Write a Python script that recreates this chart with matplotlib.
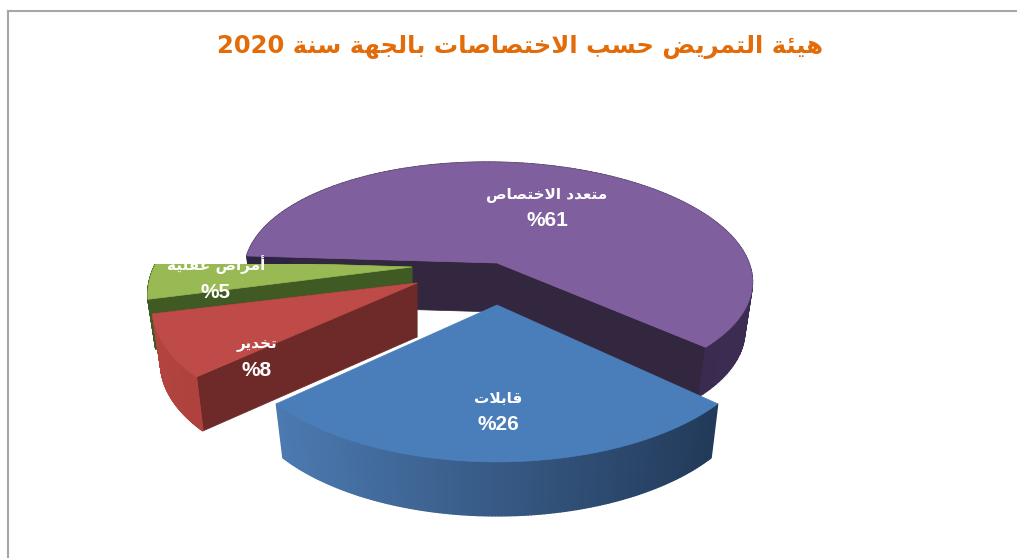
import numpy as np
import matplotlib
matplotlib.use('Agg')
import matplotlib.pyplot as plt
from matplotlib.patches import Rectangle

# القيم
title_ar = 'هيئة التمريض حسب الاختصاصات بالجهة سنة'
title_year = '2020'
labels = ['متعدد الاختصاص', 'قابلات', 'تخدير', 'أمراض عقلية']
values = [61, 26, 8, 5]

top_colors = ['#7f5f9e', '#4a7ebb', '#be4b48', '#98b954']
wall_colors = ['#33263f', None, '#6e2a28', '#3f5a22']
rim_left = ['#2e2340', '#4f7fb8', '#b2433f', '#3f5a22']
rim_right = ['#3c2c52', '#1f3552', '#8c302d', '#3f5a22']

# apex x, apex y, a, b, k, depth, skew for every slice (pixels)
geom = [(497, 263, 252, 113, 0.12, 49, 0.1),
        (497, 305, 258, 123, 0.216, 54, 0),
        (417, 283, 258, 117, 0.216, 54, 0),
        (412, 267, 258, 123, 0.216, 50, 0)]
label_pos = [(547, 194, 220), (498, 398, 424), (257, 345, 371), (216, 265, 292)]
draw_order = [0, 3, 2, 1]
shrink = 0.97  # bottom of the pie looks a bit narrower

# presentation forms: isolated, final, initial, medial
forms = {'ا': 'ﺍﺎ', 'أ': 'ﺃﺄ', 'د': 'ﺩﺪ', 'ر': 'ﺭﺮ',
         'ة': 'ﺓﺔ', 'ب': 'ﺏﺐﺑﺒ', 'ت': 'ﺕﺖﺗﺘ', 'ج': 'ﺝﺞﺟﺠ',
         'ح': 'ﺡﺢﺣﺤ', 'خ': 'ﺥﺦﺧﺨ', 'س': 'ﺱﺲﺳﺴ', 'ص': 'ﺹﺺﺻﺼ',
         'ض': 'ﺽﺾﺿﻀ', 'ع': 'ﻉﻊﻋﻌ', 'ق': 'ﻕﻖﻗﻘ', 'ل': 'ﻝﻞﻟﻠ',
         'م': 'ﻡﻢﻣﻤ', 'ن': 'ﻥﻦﻧﻨ', 'ه': 'ﻩﻪﻫﻬ', 'ي': 'ﻱﻲﻳﻴ',
         'ئ': 'ﺉﺊﺋﺌ'}


def joins_next(ch):
    return ch in forms and len(forms[ch]) == 4


def shape(text):
    # matplotlib has no Arabic shaping, so pick the joined forms by hand
    text = text.replace('لا', '\ufefb').replace('لأ', '\ufef7')
    out = []
    for i, ch in enumerate(text):
        prev = text[i - 1] if i > 0 else ' '
        nxt = text[i + 1] if i < len(text) - 1 else ' '
        before = joins_next(prev)
        after = nxt in forms or nxt in '\ufefb\ufef7'
        if ch in '\ufefb\ufef7':
            out.append(chr(ord(ch) + 1) if before else ch)
        elif ch not in forms:
            out.append(ch)
        elif len(forms[ch]) == 2:
            out.append(forms[ch][1] if before else forms[ch][0])
        elif before and after:
            out.append(forms[ch][3])
        elif before:
            out.append(forms[ch][1])
        elif after:
            out.append(forms[ch][2])
        else:
            out.append(forms[ch][0])
    return ''.join(reversed(out))


def rim(phi, g):
    x0, y0, a, b, k, depth, skew = g
    u, v = np.sin(phi), np.cos(phi)
    d = 1 - k * v
    y = b * v / d
    return x0 + a * u / d + skew * y, y0 + y


def lower(x, y, g):
    return g[0] + (x - g[0]) * shrink, y + g[5]


def mix(c1, c2, t):
    c1 = np.array(matplotlib.colors.to_rgb(c1))
    c2 = np.array(matplotlib.colors.to_rgb(c2))
    return tuple(c1 + (c2 - c1) * t)


fig = plt.figure(figsize=(10.17, 5.58), dpi=100)
ax = fig.add_axes([0, 0, 1, 1])
ax.set_xlim(0, 1017)
ax.set_ylim(558, 0)
ax.axis('off')

# frame
ax.plot([8, 8], [558, 11], color='#a6a6a6', lw=1.5)
ax.plot([8, 1017], [11, 11], color='#a6a6a6', lw=1.5)

# angles follow the values, blue is centred on the viewer and the rest goes clockwise
first = np.deg2rad(values[1] * 1.8)
steps = np.deg2rad(np.array(values) * 3.6)
spans = {}
spans[1] = (first, first - steps[1])
spans[2] = (spans[1][1], spans[1][1] - steps[2])
spans[3] = (spans[2][1], spans[2][1] - steps[3])
spans[0] = (spans[3][1], spans[3][1] - steps[0])

green_clip = Rectangle((0, 264), 1017, 294, transform=ax.transData)

for i in draw_order:
    g = geom[i]
    start, stop = spans[i]
    phi = np.linspace(start, stop, 160)
    clip = green_clip if i == 3 else None

    # flat cut walls
    if wall_colors[i]:
        for end in (start, stop):
            ex, ey = rim(end, g)
            ex2, ey2 = lower(ex, ey, g)
            p = ax.fill([g[0], ex, ex2, g[0]], [g[1], ey, ey2, g[1] + g[5]],
                        color=wall_colors[i], lw=0.5)
            if clip:
                p[0].set_clip_path(clip)

    # outer wall, a strip per step for the shading
    xs, ys = rim(phi, g)
    xb, yb = lower(xs, ys, g)
    xmin, xmax = g[0] - g[2], g[0] + g[2]
    for j in range(len(phi) - 1):
        t = np.clip((xs[j] - xmin) / (xmax - xmin), 0, 1)
        c = mix(rim_left[i], rim_right[i], t)
        p = ax.fill([xs[j], xs[j + 1], xb[j + 1], xb[j]],
                    [ys[j], ys[j + 1], yb[j + 1], yb[j]], color=c, lw=1)
        if clip:
            p[0].set_clip_path(clip)

    # top surface
    p = ax.fill(np.r_[g[0], xs], np.r_[g[1], ys], color=top_colors[i], lw=0.5)
    if clip:
        p[0].set_clip_path(clip)

for i in range(4):
    x, y1, y2 = label_pos[i]
    t1 = ax.text(x, y1, shape(labels[i]), color='white', fontsize=11, fontweight='bold',
                 family='DejaVu Sans', ha='center', va='center')
    t2 = ax.text(x, y2, '%' + str(values[i]), color='white', fontsize=15, fontweight='bold',
                 family='Liberation Sans', ha='center', va='center')
    if i == 3:
        t1.set_clip_path(Rectangle((0, 262), 1017, 296, transform=ax.transData))

ax.text(520, 47, title_year + ' ' + shape(title_ar), color='#e36c0a', fontsize=17.5,
        fontweight='bold', family='DejaVu Sans', ha='center', va='center')

fig.savefig('out.png', dpi=100)
